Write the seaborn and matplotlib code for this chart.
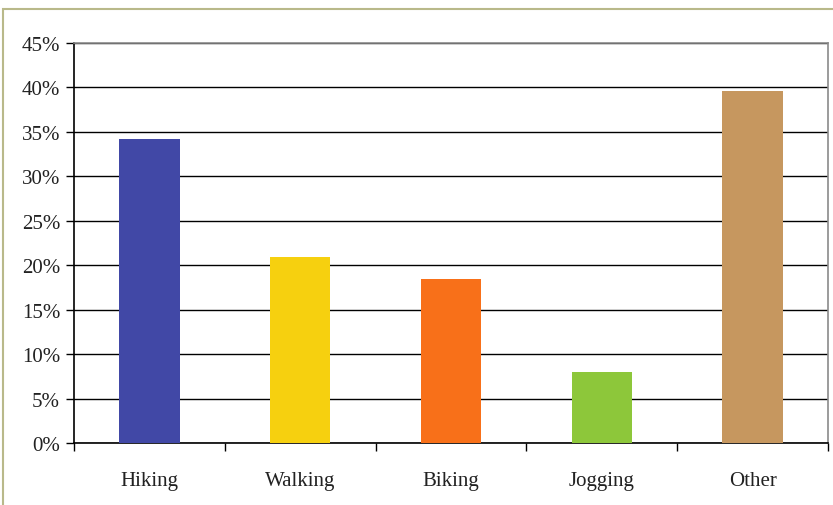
import matplotlib
matplotlib.use("Agg")
import matplotlib.pyplot as plt
import matplotlib.ticker as mticker
from matplotlib.patches import Rectangle
import seaborn as sns
import pandas as pd

activities = ["Hiking", "Walking", "Biking", "Jogging", "Other"]
shares = [0.342, 0.209, 0.185, 0.080, 0.396]
bar_colors = ["#4148A6", "#F6D00F", "#F87019", "#8DC73A", "#C6975F"]

sns.set_theme(style="white")
plt.rcParams["font.family"] = ["Liberation Serif", "DejaVu Serif"]

df = pd.DataFrame({"activity": activities, "share": shares})

fig = plt.figure(figsize=(8.33, 5.06), dpi=100)
fig.patch.set_facecolor("white")
ax = fig.add_axes([0.0888, 0.1225, 0.9052, 0.7905])

sns.barplot(data=df, x="activity", y="share", hue="activity",
            palette=bar_colors, width=0.4, legend=False, ax=ax,
            saturation=1, linewidth=0, zorder=3)

ax.set_xlim(-0.5, len(activities) - 0.5)
ax.set_ylim(0, 0.45)
ax.set_yticks([i * 0.05 for i in range(10)])
ax.yaxis.set_major_formatter(mticker.FuncFormatter(lambda v, _: f"{v*100:.0f}%"))

ax.yaxis.grid(True, color="black", linewidth=1.0, zorder=1)
ax.set_axisbelow(True)

ax.set_xlabel("")
ax.set_ylabel("")

# category boundary ticks on the x axis
ax.set_xticks(range(len(activities)))
ax.set_xticklabels(activities)
ax.set_xticks([i - 0.5 for i in range(len(activities) + 1)], minor=True)
ax.tick_params(axis="x", which="major", length=0, pad=20, labelsize=15, colors="#222222")
ax.tick_params(axis="x", which="minor", length=6, width=1, direction="out",
               color="black", bottom=True)
ax.tick_params(axis="y", which="major", length=6, width=1, direction="out",
               color="black", left=True, labelsize=15, labelcolor="#222222", pad=4)

for side in ["left", "bottom"]:
    ax.spines[side].set_color("black")
    ax.spines[side].set_linewidth(1.2)
for side in ["top", "right"]:
    ax.spines[side].set_color("#8a8a8a")
    ax.spines[side].set_linewidth(1.2)

# outer chart frame (runs off the bottom and right edges)
fig.patches.append(Rectangle((3 / 833, -0.1), 1.2, 1.1 - 10 / 506,
                             transform=fig.transFigure, fill=False,
                             edgecolor="#B9B98A", linewidth=1.5))

fig.savefig("out.png", dpi=100)
